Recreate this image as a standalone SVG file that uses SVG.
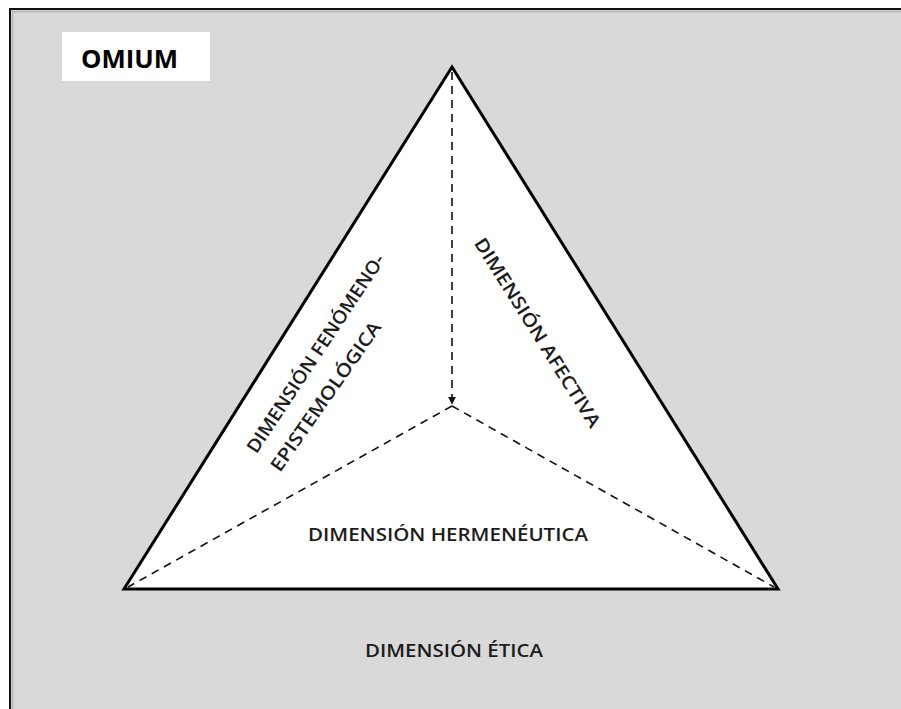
<svg xmlns="http://www.w3.org/2000/svg" width="901" height="709" viewBox="0 0 901 709">
  <style>
    .label { font-family: "Open Sans", "Liberation Sans", sans-serif; font-weight: 600; font-size: 18.5px; fill: #1c1c1c; }
    .title { font-family: "Open Sans", "Liberation Sans", sans-serif; font-weight: 700; font-size: 25px; fill: #000; }
    .dash { fill: none; stroke: #111; stroke-width: 1.6; stroke-dasharray: 8 6; }
  </style>
  <defs>
    <marker id="tip" viewBox="0 0 10 10" refX="9" refY="5" markerWidth="5" markerHeight="5" orient="auto">
      <path d="M0,0 L10,5 L0,10 z" fill="#111"/>
    </marker>
  </defs>

  <!-- page background and frame -->
  <rect x="0" y="0" width="901" height="709" fill="#ffffff"/>
  <rect x="10" y="9" width="891" height="700" fill="#d9d9d9"/>
  <path d="M11,709 V10 H901" fill="none" stroke="#bdbdbd" stroke-width="2" transform="translate(1.5,1.5)"/>
  <path d="M10,709 V9 H901" fill="none" stroke="#111" stroke-width="2"/>

  <!-- title box -->
  <g id="omium">
    <rect x="62" y="32" width="148" height="49" fill="#ffffff"/>
    <text class="title" x="81" y="68" textLength="97" lengthAdjust="spacingAndGlyphs">OMIUM</text>
  </g>

  <!-- triangle -->
  <g id="triangle">
    <polygon points="452,67 124,589 778,589" fill="#ffffff" stroke="#000" stroke-width="3" stroke-linejoin="miter"/>
  </g>

  <!-- connectors: internal dashed divisions -->
  <g id="connectors">
    <line class="dash" x1="452" y1="72" x2="452" y2="404" marker-end="url(#tip)"/>
    <line class="dash" x1="452" y1="406" x2="128" y2="587"/>
    <line class="dash" x1="452" y1="406" x2="774" y2="587"/>
  </g>

  <!-- dimension labels -->
  <g id="dim-fenomeno">
    <text class="label" transform="translate(321,357) rotate(-56.5)" text-anchor="middle" x="0" y="0" textLength="234" lengthAdjust="spacingAndGlyphs">DIMENSIÓN FENÓMENO-</text>
    <text class="label" transform="translate(331,400) rotate(-55)" text-anchor="middle" x="0" y="0" textLength="178" lengthAdjust="spacingAndGlyphs">EPISTEMOLÓGICA</text>
  </g>
  <g id="dim-afectiva">
    <text class="label" transform="translate(532,336) rotate(57.8)" text-anchor="middle" x="0" y="0" textLength="220" lengthAdjust="spacingAndGlyphs">DIMENSIÓN AFECTIVA</text>
  </g>
  <g id="dim-hermeneutica">
    <text class="label" x="448" y="541" text-anchor="middle" textLength="280" lengthAdjust="spacingAndGlyphs">DIMENSIÓN HERMENÉUTICA</text>
  </g>
  <g id="dim-etica">
    <text class="label" x="454" y="657" text-anchor="middle" textLength="178" lengthAdjust="spacingAndGlyphs">DIMENSIÓN ÉTICA</text>
  </g>
</svg>
